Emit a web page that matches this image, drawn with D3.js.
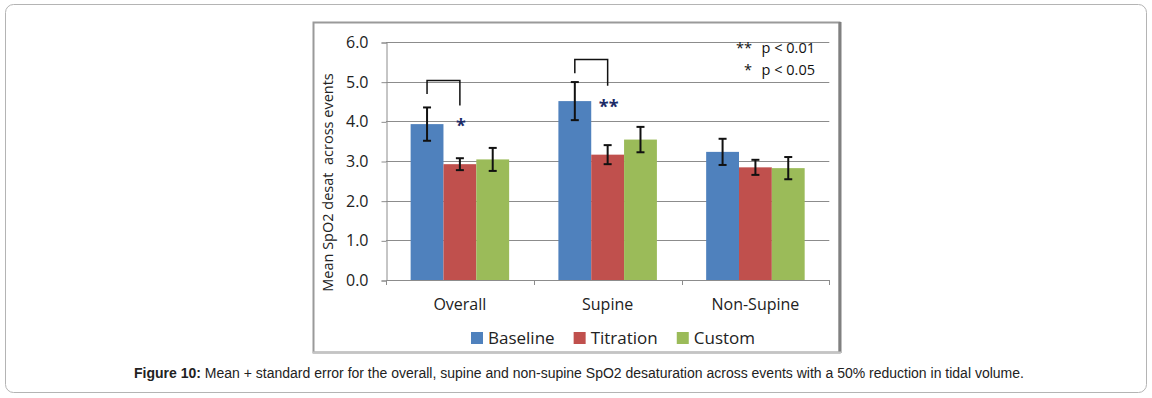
<!DOCTYPE html>
<html>
<head>
<meta charset="utf-8">
<script src="https://cdn.jsdelivr.net/npm/d3@7"></script>
<style>
  html, body { margin: 0; padding: 0; background: #fff; }
  svg { display: block; }
</style>
</head>
<body>
<svg id="chart" width="1152" height="398"></svg>
<script>
// ---- data ----
const categories = ["Overall", "Supine", "Non-Supine"];
const seriesNames = ["Baseline", "Titration", "Custom"];
const baselineValues = [3.93, 4.51, 3.23];
const titrationValues = [2.92, 3.16, 2.84];
const customValues = [3.04, 3.54, 2.82];
const baselineErr = [0.42, 0.48, 0.33];
const titrationErr = [0.15, 0.24, 0.19];
const customErr = [0.29, 0.32, 0.28];
const yTicks = [0, 1, 2, 3, 4, 5, 6];
const seriesColors = ["#4F81BD", "#C0504D", "#9BBB59"];
// significance brackets (from Baseline to Titration), heights in data units
const bracketCats = ["Overall", "Supine"];
const bracketTop = [5.03, 5.56];
const bracketLeftEnd = [4.69, 5.21];
const bracketRightEnd = [4.40, 4.90];
const bracketMarks = ["*", "**"];
const noteLines = [["**", "p < 0.01"], ["*", "p < 0.05"]];
const captionBold = "Figure 10:";
const captionText = " Mean + standard error for the overall, supine and non-supine SpO2 desaturation across events with a 50% reduction in tidal volume.";

const valuesBySeries = [baselineValues, titrationValues, customValues];
const errBySeries = [baselineErr, titrationErr, customErr];

const svg = d3.select("#chart");
const FONT = "'Open Sans', sans-serif";

// outer figure frame
svg.append("rect")
  .attr("x", 5.5).attr("y", 4.5).attr("width", 1141).attr("height", 388)
  .attr("rx", 8).attr("fill", "#fff").attr("stroke", "#b4b4b4").attr("stroke-width", 1);

// chart box
svg.append("rect")
  .attr("x", 313.5).attr("y", 22.5).attr("width", 526).attr("height", 330)
  .attr("fill", "#fff").attr("stroke", "#9a9a9a").attr("stroke-width", 2);
svg.append("line").attr("x1", 840).attr("x2", 840).attr("y1", 22).attr("y2", 353)
  .attr("stroke", "#808080").attr("stroke-width", 3);
svg.append("line").attr("x1", 313).attr("x2", 841).attr("y1", 352.5).attr("y2", 352.5)
  .attr("stroke", "#c4c4c4").attr("stroke-width", 2);

// scales
const plotL = 386, plotR = 829.3, plotT = 42, plotB = 280;
const y = d3.scaleLinear().domain([0, 6]).range([plotB, plotT]);
const x0 = d3.scaleBand().domain(categories).range([plotL, plotR]).paddingInner(0).paddingOuter(0);
const x1 = d3.scaleBand().domain(seriesNames).range([0, x0.bandwidth()]).paddingInner(0).paddingOuter(0.75);

// gridlines
svg.append("g").selectAll("line").data(yTicks.slice(1)).join("line")
  .attr("x1", plotL).attr("x2", plotR)
  .attr("y1", d => Math.round(y(d)) + 0.5).attr("y2", d => Math.round(y(d)) + 0.5)
  .attr("stroke", "#8c8c8c").attr("stroke-width", 1);

// y axis
const yAxis = svg.append("g").attr("transform", `translate(${plotL + 0.5},0.5)`)
  .call(d3.axisLeft(y).tickValues(yTicks).tickFormat(d3.format(".1f")).tickSize(5).tickPadding(13));
yAxis.select(".domain").attr("stroke", "#8c8c8c");
yAxis.selectAll(".tick line").attr("stroke", "#8c8c8c");
yAxis.selectAll(".tick text").attr("font-family", FONT).attr("font-size", 16).attr("fill", "#222");

// x axis baseline and ticks
svg.append("line").attr("x1", plotL).attr("x2", plotR).attr("y1", plotB + 0.5).attr("y2", plotB + 0.5)
  .attr("stroke", "#8c8c8c");
const xTickPos = categories.map(c => x0(c)).concat([x0(categories[categories.length - 1]) + x0.bandwidth()]);
svg.append("g").selectAll("line").data(xTickPos).join("line")
  .attr("x1", d => Math.round(d) + 0.5).attr("x2", d => Math.round(d) + 0.5)
  .attr("y1", plotB).attr("y2", plotB + 5).attr("stroke", "#8c8c8c");
svg.append("g").selectAll("text").data(categories).join("text")
  .attr("x", d => x0(d) + x0.bandwidth() / 2).attr("y", 310)
  .attr("text-anchor", "middle").attr("font-family", FONT).attr("font-size", 16).attr("fill", "#222")
  .text(d => d);

// y axis title
svg.append("text")
  .attr("transform", `translate(333,${(73 + 292) / 2}) rotate(-90)`)
  .attr("text-anchor", "middle").attr("font-family", FONT).attr("font-size", 14.5).attr("fill", "#222")
  .attr("xml:space", "preserve")
  .text("Mean SpO2 desat  across events");

// bars
const barData = [];
categories.forEach((c, ci) => {
  seriesNames.forEach((s, si) => {
    barData.push({ c, s, si, v: valuesBySeries[si][ci], e: errBySeries[si][ci] });
  });
});
svg.append("g").selectAll("rect").data(barData).join("rect")
  .attr("x", d => x0(d.c) + x1(d.s))
  .attr("width", x1.bandwidth())
  .attr("y", d => y(d.v))
  .attr("height", d => y(0) - y(d.v))
  .attr("fill", d => seriesColors[d.si]);

// error bars
const eg = svg.append("g").attr("stroke", "#111").attr("stroke-width", 2);
barData.forEach(d => {
  const cx = x0(d.c) + x1(d.s) + x1.bandwidth() / 2;
  eg.append("line").attr("x1", cx).attr("x2", cx).attr("y1", y(d.v + d.e)).attr("y2", y(d.v - d.e));
  eg.append("line").attr("x1", cx - 4).attr("x2", cx + 4).attr("y1", y(d.v + d.e)).attr("y2", y(d.v + d.e));
  eg.append("line").attr("x1", cx - 4).attr("x2", cx + 4).attr("y1", y(d.v - d.e)).attr("y2", y(d.v - d.e));
});

// significance brackets
bracketCats.forEach((c, i) => {
  const xl = x0(c) + x1(seriesNames[0]) + x1.bandwidth() / 2;
  const xr = x0(c) + x1(seriesNames[1]) + x1.bandwidth() / 2;
  svg.append("path")
    .attr("d", `M${xl},${y(bracketLeftEnd[i])}V${y(bracketTop[i])}H${xr}V${y(bracketRightEnd[i])}`)
    .attr("fill", "none").attr("stroke", "#111").attr("stroke-width", 1.5);
  svg.append("text")
    .attr("x", xr + 1).attr("y", y(bracketRightEnd[i]) + 27)
    .attr("text-anchor", "middle").attr("font-family", FONT).attr("font-size", 18)
    .attr("font-weight", "bold").attr("fill", "#1c2b66")
    .text(bracketMarks[i]);
});

// p-value note
noteLines.forEach((ln, i) => {
  svg.append("text").attr("x", 752).attr("y", 53 + i * 22).attr("text-anchor", "end")
    .attr("font-family", FONT).attr("font-size", 14.5).attr("fill", "#111").text(ln[0]);
  svg.append("text").attr("x", 815).attr("y", 53 + i * 22).attr("text-anchor", "end")
    .attr("font-family", FONT).attr("font-size", 14.5).attr("fill", "#111").text(ln[1]);
});

// legend
const lg = svg.append("g");
let lx = 471;
seriesNames.forEach((s, i) => {
  lg.append("rect").attr("x", lx).attr("y", 332).attr("width", 12).attr("height", 12).attr("fill", seriesColors[i]);
  const t = lg.append("text").attr("x", lx + 17).attr("y", 344)
    .attr("font-family", FONT).attr("font-size", 17).attr("fill", "#222").text(s);
  lx = lx + 17 + t.node().getComputedTextLength() + 19;
});

// caption
const cap = svg.append("text").attr("x", 579).attr("y", 378).attr("text-anchor", "middle")
  .attr("font-family", "'Liberation Sans', Arial, sans-serif").attr("font-size", 14).attr("fill", "#222");
cap.append("tspan").attr("font-weight", "bold").text(captionBold);
cap.append("tspan").text(captionText);
</script>
</body>
</html>
